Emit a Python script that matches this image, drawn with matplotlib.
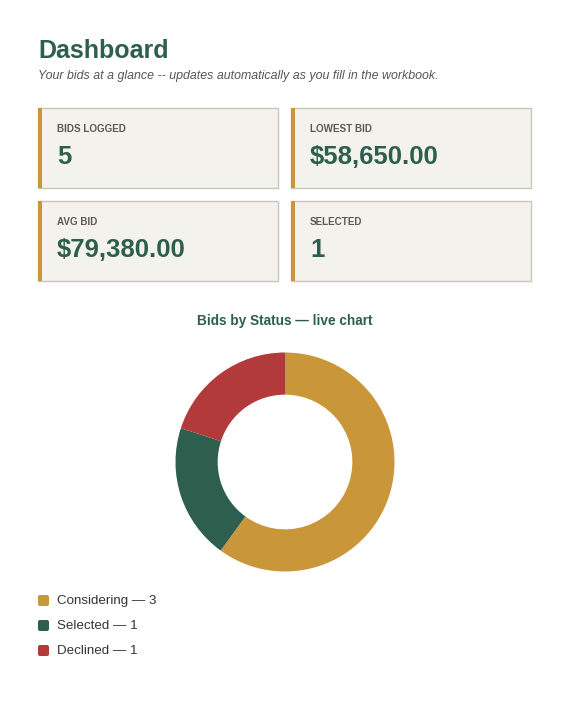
import matplotlib
matplotlib.use("Agg")
import matplotlib.pyplot as plt
from matplotlib.patches import Rectangle, FancyBboxPatch

plt.rcParams['font.family'] = ['Liberation Sans', 'DejaVu Sans']

# ---- data ----
title = "Dashboard"
subtitle = "Your bids at a glance -- updates automatically as you fill in the workbook."
card_labels = ["BIDS LOGGED", "LOWEST BID", "AVG BID", "SELECTED"]
card_values = ["5", "$58,650.00", "$79,380.00", "1"]
chart_title = "Bids by Status \u2014 live chart"
statuses = ["Considering", "Selected", "Declined"]
counts = [3, 1, 1]
colors = ["#c9973a", "#2d5e4e", "#b33a3a"]

GREEN = "#2d5e4e"
GOLD = "#c9973a"

fig = plt.figure(figsize=(5.7, 7.03), dpi=100)
fig.patch.set_facecolor("white")
ax = fig.add_axes([0, 0, 1, 1])
ax.set_xlim(0, 570)
ax.set_ylim(703, 0)
ax.axis("off")

ax.text(38, 51.5, title, fontsize=18, fontweight="bold", color=GREEN, va="center", ha="left")
ax.text(38, 76, subtitle, fontsize=8.95, style="italic", color="#555555", va="center", ha="left")

# cards
card_pos = [(38, 108), (291, 108), (38, 201), (291, 201)]
cw, ch = 240, 80
for (x, y), lab, val in zip(card_pos, card_labels, card_values):
    ax.add_patch(Rectangle((x, y), cw, ch, facecolor="#f4f2ec", edgecolor="#c9c6bd", lw=1.0))
    ax.add_patch(Rectangle((x, y), 3.5, ch, facecolor=GOLD, edgecolor="none"))
    ax.text(x + 19, y + 21, lab, fontsize=7.1, fontweight="bold", color="#5e5a4e", va="center", ha="left")
    ax.text(x + 19, y + 49, val, fontsize=18.5, fontweight="bold", color=GREEN, va="center", ha="left")

ax.text(285, 321, chart_title, fontsize=9.8, fontweight="bold", color=GREEN, va="center", ha="center")

# donut
cx, cy, r = 285, 462, 109.5
pax = fig.add_axes([(cx - r) / 570, (703 - cy - r) / 703, 2 * r / 570, 2 * r / 703])
pax.pie(counts, colors=colors, startangle=90, counterclock=False, radius=1.0,
        wedgeprops=dict(width=0.385, edgecolor="none", linewidth=0))
pax.set_xlim(-1, 1)
pax.set_ylim(-1, 1)
pax.set_aspect("equal")
pax.axis("off")

# legend
for i, (s, c, col) in enumerate(zip(statuses, counts, colors)):
    y = 601 + i * 25
    ax.add_patch(FancyBboxPatch((38, y - 6), 11, 11, boxstyle="round,pad=0,rounding_size=2",
                                facecolor=col, edgecolor="none"))
    ax.text(57, y, f"{s} \u2014 {c}", fontsize=9.6, color="#333333", va="center", ha="left")

fig.savefig("out.png", dpi=100, facecolor="white")
